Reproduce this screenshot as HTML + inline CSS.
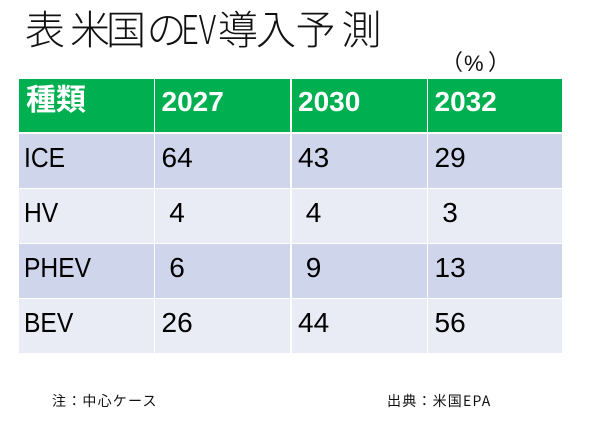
<!DOCTYPE html>
<html>
<head>
<meta charset="utf-8">
<style>
  html,body{margin:0;padding:0;background:#fff;}
  body{width:600px;height:424px;position:relative;overflow:hidden;}
  .t{position:absolute;font-family:"Noto Sans CJK JP","Liberation Sans",sans-serif;font-size:40px;line-height:40px;color:#111;white-space:pre;font-weight:300;}
  .c{position:absolute;box-sizing:border-box;font-family:"Liberation Sans","Noto Sans CJK JP",sans-serif;font-size:28px;line-height:32px;white-space:pre;color:#000;padding-left:6.5px;padding-top:7.3px;}
  .h{background:#00B050;color:#fff;font-weight:bold;padding-top:6.5px;}
  .o{background:#CFD5EA;}
  .e{background:#E9EBF5;}
  .lab{display:inline-block;transform:scaleX(0.88);transform-origin:0 50%;}
  .f{position:absolute;font-family:"Noto Sans CJK JP","Liberation Sans",sans-serif;font-size:14px;line-height:14px;letter-spacing:1.2px;color:#111;white-space:pre;}
</style>
</head>
<body>
<!-- Title -->
<span class="t" style="left:25px;top:6.5px;">表</span>
<span class="t" style="left:70px;top:6.5px;">米</span>
<span class="t" style="left:106px;top:6.5px;">国</span>
<span class="t" style="left:146.5px;top:6.5px;">の</span>
<div class="t" style="left:181px;top:6.5px;transform:scaleX(0.78);transform-origin:0 50%;">EV</div>
<span class="t" style="left:218px;top:6.5px;">導</span>
<span class="t" style="left:256px;top:6.5px;">入</span>
<span class="t" style="left:295.5px;top:6.5px;">予</span>
<span class="t" style="left:341.5px;top:6.5px;">測</span>

<!-- (%) -->
<span style="position:absolute;left:441px;top:50.4px;font-family:'Noto Sans CJK JP',sans-serif;font-size:22px;line-height:22px;color:#111;">（</span>
<span style="position:absolute;left:464px;top:52.7px;font-family:'Liberation Sans',sans-serif;font-size:22px;line-height:22px;color:#111;">%</span>
<span style="position:absolute;left:488px;top:50.4px;font-family:'Noto Sans CJK JP',sans-serif;font-size:22px;line-height:22px;color:#111;">）</span>

<!-- Header row -->
<div class="c h" style="left:19px;top:79px;width:134.5px;height:53.3px;padding-left:7px;padding-top:5.8px;"><span style="font-size:30px;">種類</span></div>
<div class="c h" style="left:155px;top:79px;width:135px;height:53.3px;">2027</div>
<div class="c h" style="left:291.5px;top:79px;width:135px;height:53.3px;">2030</div>
<div class="c h" style="left:428px;top:79px;width:134px;height:53.3px;">2032</div>

<!-- Row ICE -->
<div class="c o" style="left:19px;top:134.3px;width:134.5px;height:53.5px;padding-left:5.4px;"><span class="lab">ICE</span></div>
<div class="c o" style="left:155px;top:134.3px;width:135px;height:53.5px;">64</div>
<div class="c o" style="left:291.5px;top:134.3px;width:135px;height:53.5px;">43</div>
<div class="c o" style="left:428px;top:134.3px;width:134px;height:53.5px;">29</div>

<!-- Row HV -->
<div class="c e" style="left:19px;top:189.3px;width:134.5px;height:53.5px;padding-left:5.4px;"><span class="lab">HV</span></div>
<div class="c e" style="left:155px;top:189.3px;width:135px;height:53.5px;"> 4</div>
<div class="c e" style="left:291.5px;top:189.3px;width:135px;height:53.5px;"> 4</div>
<div class="c e" style="left:428px;top:189.3px;width:134px;height:53.5px;"> 3</div>

<!-- Row PHEV -->
<div class="c o" style="left:19px;top:244.3px;width:134.5px;height:53.5px;padding-left:5.4px;"><span class="lab">PHEV</span></div>
<div class="c o" style="left:155px;top:244.3px;width:135px;height:53.5px;"> 6</div>
<div class="c o" style="left:291.5px;top:244.3px;width:135px;height:53.5px;"> 9</div>
<div class="c o" style="left:428px;top:244.3px;width:134px;height:53.5px;">13</div>

<!-- Row BEV -->
<div class="c e" style="left:19px;top:299.3px;width:134.5px;height:54px;padding-left:5.4px;"><span class="lab">BEV</span></div>
<div class="c e" style="left:155px;top:299.3px;width:135px;height:54px;">26</div>
<div class="c e" style="left:291.5px;top:299.3px;width:135px;height:54px;">44</div>
<div class="c e" style="left:428px;top:299.3px;width:134px;height:54px;">56</div>

<!-- Footer -->
<span class="f" style="left:52px;top:393.6px;">注：中心ケース</span>
<span class="f" style="left:387px;top:393.6px;">出典：米国EPA</span>
</body>
</html>
